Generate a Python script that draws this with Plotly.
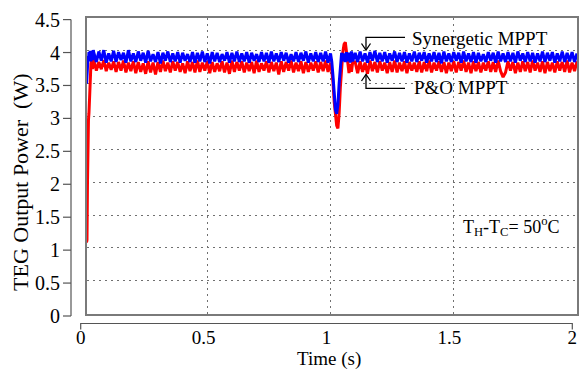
import numpy as np
import plotly.graph_objects as go

W, H = 579, 370
OFF = 0  # body margin removed in post_script below

# ---------------- data ----------------
t_start = [0.010, 0.012, 0.014, 0.016, 0.018, 0.020, 0.022, 0.025, 0.028, 0.031, 0.034, 0.037]
blue_start = [3.50, 3.58, 3.75, 3.92, 3.84, 3.98, 3.85, 4.00, 3.84, 3.99, 3.86, 4.01]
red_start = [1.08, 1.12, 2.00, 2.75, 2.95, 3.05, 3.30, 3.62, 3.80, 3.86, 3.72, 3.84]

t_seg1 = [float(v) for v in np.round(np.arange(0.04, 1.005, 0.01), 3)]
blue_seg1 = [
    3.97, 3.83, 3.99, 3.85, 4.01, 3.82, 3.96, 3.84, 4.00, 3.83,
    3.98, 3.86, 3.97, 3.82, 4.01, 3.84, 3.96, 3.83, 3.99, 3.85,
    3.97, 3.82, 4.00, 3.84, 3.95, 3.83, 3.98, 3.81, 3.97, 3.85,
    3.99, 3.83, 3.96, 3.84, 3.98, 3.82, 3.97, 3.85, 3.95, 3.83,
    3.98, 3.82, 3.97, 3.84, 3.99, 3.83, 3.96, 3.81, 3.98, 3.84,
    3.97, 3.83, 3.95, 3.85, 3.98, 3.82, 3.97, 3.84, 3.99, 3.83,
    3.96, 3.84, 3.98, 3.82, 3.97, 3.85, 3.95, 3.83, 3.98, 3.84,
    3.97, 3.82, 3.99, 3.84, 3.96, 3.83, 3.98, 3.85, 3.97, 3.82,
    3.95, 3.84, 3.98, 3.83, 3.97, 3.85, 3.99, 3.82, 3.96, 3.84,
    3.98, 3.83, 3.97, 3.84, 3.99, 3.82, 3.96,
]
red_seg1 = [
    3.85, 3.70, 3.83, 3.72, 3.86, 3.69, 3.82, 3.71, 3.84, 3.68,
    3.83, 3.70, 3.85, 3.67, 3.82, 3.69, 3.84, 3.66, 3.83, 3.68,
    3.81, 3.65, 3.84, 3.67, 3.82, 3.64, 3.83, 3.68, 3.85, 3.69,
    3.82, 3.67, 3.84, 3.70, 3.83, 3.68, 3.81, 3.66, 3.84, 3.69,
    3.83, 3.67, 3.85, 3.68, 3.82, 3.70, 3.84, 3.66, 3.83, 3.68,
    3.81, 3.69, 3.84, 3.67, 3.82, 3.65, 3.85, 3.68, 3.83, 3.70,
    3.84, 3.67, 3.82, 3.69, 3.83, 3.66, 3.85, 3.68, 3.81, 3.70,
    3.84, 3.67, 3.83, 3.69, 3.82, 3.64, 3.84, 3.68, 3.83, 3.70,
    3.85, 3.67, 3.82, 3.69, 3.84, 3.66, 3.83, 3.68, 3.82, 3.70,
    3.84, 3.67, 3.83, 3.69, 3.85, 3.68, 3.82,
]

t_dip = [1.005, 1.010, 1.015, 1.020, 1.025, 1.030, 1.035, 1.040, 1.045,
         1.050, 1.055, 1.060, 1.065, 1.070, 1.075, 1.080, 1.085, 1.090]
blue_dip = [3.84, 3.62, 3.32, 3.10, 3.04, 3.18, 3.50, 3.80, 3.97,
            3.84, 3.96, 3.83, 3.98, 3.84, 3.97, 3.82, 3.99, 3.84]
red_dip = [3.70, 3.52, 3.22, 3.00, 2.86, 2.82, 3.05, 3.45, 3.78,
           3.98, 4.10, 4.13, 3.98, 3.78, 3.66, 3.80, 3.68, 3.83]

t_seg2 = [float(v) for v in np.round(np.arange(1.10, 2.005, 0.01), 3)]
blue_seg2 = [
    3.97, 3.83, 3.99, 3.84, 3.96, 3.82, 3.98, 3.85, 4.00, 3.83,
    3.97, 3.84, 3.98, 3.82, 3.96, 3.85, 3.99, 3.83, 3.97, 3.84,
    3.98, 3.82, 3.96, 3.84, 3.99, 3.83, 3.97, 3.85, 3.98, 3.82,
    3.96, 3.84, 3.98, 3.83, 3.97, 3.81, 3.99, 3.84, 3.96, 3.83,
    3.98, 3.85, 3.97, 3.82, 3.99, 3.84, 3.96, 3.83, 3.98, 3.82,
    3.97, 3.84, 3.95, 3.83, 3.98, 3.85, 3.97, 3.82, 3.99, 3.84,
    3.96, 3.83, 3.98, 3.84, 3.97, 3.82, 3.99, 3.85, 3.96, 3.83,
    3.98, 3.84, 3.97, 3.82, 3.96, 3.84, 3.99, 3.83, 3.97, 3.85,
    3.98, 3.82, 3.96, 3.84, 3.99, 3.83, 3.97, 3.84, 3.98, 3.83,
    3.96,
]
red_seg2 = [
    3.83, 3.66, 3.84, 3.68, 3.82, 3.65, 3.85, 3.69, 3.83, 3.67,
    3.84, 3.70, 3.82, 3.66, 3.83, 3.68, 3.85, 3.67, 3.82, 3.69,
    3.84, 3.66, 3.83, 3.70, 3.82, 3.68, 3.84, 3.67, 3.83, 3.69,
    3.85, 3.67, 3.82, 3.70, 3.84, 3.68, 3.83, 3.66, 3.82, 3.69,
    3.84, 3.67, 3.83, 3.70, 3.85, 3.68, 3.82, 3.66, 3.84, 3.69,
    3.83, 3.67, 3.82, 3.70, 3.84, 3.68, 3.83, 3.68, 3.85, 3.69,
    3.60, 3.67, 3.84, 3.70, 3.83, 3.66, 3.82, 3.68, 3.84, 3.69,
    3.83, 3.67, 3.85, 3.70, 3.82, 3.68, 3.84, 3.66, 3.83, 3.69,
    3.82, 3.67, 3.84, 3.70, 3.83, 3.68, 3.85, 3.67, 3.82, 3.69,
    3.84,
]

x_ticks = [0, 0.5, 1, 1.5, 2]
x_tick_labels = ["0", "0.5", "1", "1.5", "2"]
y_ticks = [0, 0.5, 1, 1.5, 2, 2.5, 3, 3.5, 4, 4.5]
y_tick_labels = ["0", "0.5", "1", "1.5", "2", "2.5", "3", "3.5", "4", "4.5"]

t_all = t_start + t_seg1 + t_dip + t_seg2
blue_all = blue_start + blue_seg1 + blue_dip + blue_seg2
red_all = red_start + red_seg1 + red_dip + red_seg2

# ---------------- helpers (screen pixel -> paper fraction) ----------------
def px(x):
    return (x - OFF) / W


def py(y):
    return 1 - (y - OFF) / H


FONT = "Liberation Serif"

fig = go.Figure()
fig.add_trace(go.Scatter(x=t_all, y=red_all, mode="lines", name="P&O MPPT",
                         line=dict(color="#ff0000", width=3), xaxis="x", yaxis="y"))
fig.add_trace(go.Scatter(x=t_all, y=blue_all, mode="lines", name="Synergetic MPPT",
                         line=dict(color="#0000ff", width=3), xaxis="x", yaxis="y"))
# carrier trace for the offset tick axes
fig.add_trace(go.Scatter(x=[0], y=[0], mode="markers", marker=dict(opacity=0),
                         xaxis="x2", yaxis="y2", hoverinfo="skip"))

grid = dict(showgrid=True, gridcolor="#707070", griddash="2px,4px", gridwidth=1,
            showline=True, mirror=True, linecolor="#7a7a7a", linewidth=1.5,
            zeroline=False, showticklabels=False, ticks="", automargin=False)

x2_lo, x2_hi = 80.7, 572.3
x2_unit = (x2_hi - x2_lo) / 2.0
x2_dom_lo, x2_dom_hi = 71.0, 578.0
y2_lo, y2_hi = 316.0, 19.6
y2_unit = (y2_lo - y2_hi) / 4.5
y2_dom_lo = 323.5

fig.update_layout(
    width=W, height=H,
    margin=dict(l=0, r=0, t=0, b=0, autoexpand=False),
    paper_bgcolor="white", plot_bgcolor="rgba(0,0,0,0)",
    showlegend=False,
    xaxis=dict(domain=[px(86.5), px(577)], range=[0.01, 2.0], tickvals=[0.5, 1, 1.5],
               anchor="y", **grid),
    yaxis=dict(domain=[py(313.5), py(18)], range=[0, 4.5],
               tickvals=[0.5, 1, 1.5, 2, 2.5, 3, 3.5, 4], anchor="x", **grid),
    xaxis2=dict(domain=[px(x2_dom_lo), px(x2_dom_hi)],
                range=[-(x2_lo - x2_dom_lo) / x2_unit, 2.0 + (x2_dom_hi - x2_hi) / x2_unit],
                anchor="y2",
                tickvals=x_ticks, ticktext=x_tick_labels,
                showline=False, ticks="", showgrid=False, zeroline=False,
                automargin=False, ticklabelstandoff=0,
                tickfont=dict(family=FONT, size=19, color="black")),
    yaxis2=dict(domain=[py(y2_dom_lo), py(y2_hi)],
                range=[-(y2_dom_lo - y2_lo) / y2_unit, 4.5], anchor="x2",
                tickvals=y_ticks, ticktext=y_tick_labels,
                showline=False, ticks="", showgrid=False, zeroline=False,
                automargin=False, ticklabelstandoff=10,
                tickfont=dict(family=FONT, size=20, color="black")),
)

ann = dict(xref="paper", yref="paper", showarrow=False)


def f(size):
    return dict(family=FONT, size=size, color="black")


fig.add_annotation(text="TEG Output Power  (W)", x=px(20), y=py(182), textangle=-90,
                   xanchor="center", yanchor="middle", font=f(22), **ann)
fig.add_annotation(text="Time (s)", x=px(329), y=py(359), xanchor="center", yanchor="middle",
                   font=f(19), **ann)
fig.add_annotation(text="Synergetic MPPT", x=px(410), y=py(38), xanchor="left", yanchor="middle",
                   font=f(19), **ann)
fig.add_annotation(text="P&O MPPT", x=px(412), y=py(87), xanchor="left", yanchor="middle",
                   font=f(19), **ann)
fig.add_annotation(text="T<sub>H</sub>-T<sub>C</sub>= 50<sup>o</sup>C", x=px(461), y=py(227),
                   xanchor="left", yanchor="middle", font=f(18), **ann)


def path(points):
    return "M " + " L ".join(f"{px(a):.5f},{py(b):.5f}" for a, b in points)


arrow = dict(type="path", xref="paper", yref="paper", line=dict(color="black", width=1.3))
fig.add_shape(path=path([(405, 37.3), (366, 37.3), (366, 50)]), **arrow)
fig.add_shape(path=path([(361.5, 43.5), (366, 50), (370.5, 43.5)]), **arrow)
fig.add_shape(path=path([(405, 88.3), (366, 88.3), (366, 74.5)]), **arrow)
fig.add_shape(path=path([(361.5, 81), (366, 74.5), (370.5, 81)]), **arrow)

# offset axis lines and their ticks
ax = dict(xref="paper", yref="paper", line=dict(color="#555555", width=1.2))
fig.add_shape(type="path", path=path([(x2_lo, 329.5), (x2_lo, 323.5), (x2_hi, 323.5), (x2_hi, 329.5)]), **ax)
fig.add_shape(type="line", x0=px(71), x1=px(71), y0=py(y2_lo), y1=py(y2_hi), **ax)
for v in y_ticks:
    yy = y2_lo - v * y2_unit
    fig.add_shape(type="line", x0=px(63), x1=px(71), y0=py(yy), y1=py(yy), **ax)

fig.write_html("out.html",
               config={"displayModeBar": False},
               post_script="document.body.style.margin='0';document.body.style.overflow='hidden';")
